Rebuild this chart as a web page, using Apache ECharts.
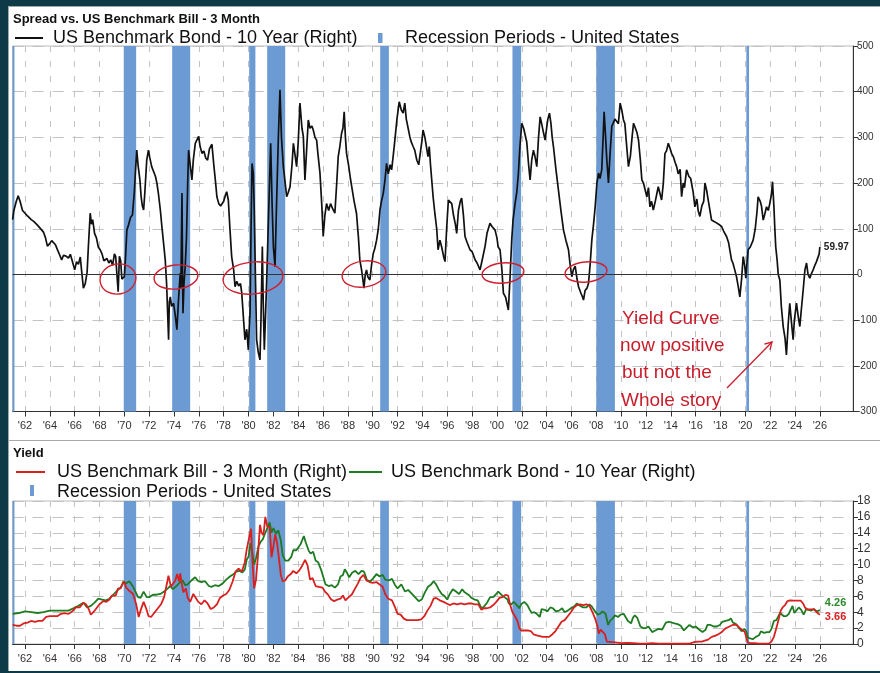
<!DOCTYPE html>
<html><head><meta charset="utf-8">
<script src="https://cdn.jsdelivr.net/npm/echarts@6/dist/echarts.min.js"></script>
<style>
html,body{margin:0;padding:0;background:#0e3a47;width:880px;height:673px;overflow:hidden;}
#panel{position:absolute;left:8px;top:6px;width:872px;height:665px;background:#fff;border-left:1px solid #9aa;border-top:1px solid #9aa;box-sizing:border-box;}
#sep{position:absolute;left:8px;top:440px;width:872px;height:1px;background:#aaa;}
#chart{position:absolute;left:0;top:0;width:880px;height:673px;}
</style>
</head><body>
<div id="panel"></div><div id="sep"></div>
<div id="chart"></div>
<script>
// ---------- data ----------
const yearTicks = [1962,1964,1966,1968,1970,1972,1974,1976,1978,1980,1982,1984,1986,1988,1990,1992,1994,1996,1998,2000,2002,2004,2006,2008,2010,2012,2014,2016,2018,2020,2022,2024,2026];
const recessions = [[1961.0,1961.15],[1969.95,1970.95],[1973.85,1975.3],[1980.05,1980.55],[1981.5,1982.95],[1990.6,1991.3],[2001.25,2001.95],[2008.0,2009.5],[2020.08,2020.3]];
// spread 10Y - 3M, basis points [year, bp]
const spread = [[1961.0,120],[1961.1,140],[1961.3,160],[1961.45,172],[1961.6,160],[1961.8,140],[1962.0,134],[1962.2,128],[1962.35,132],[1962.5,120],[1962.7,116],[1962.85,120],[1963.0,108],[1963.15,112],[1963.35,97],[1963.5,92],[1963.65,80],[1963.8,62],[1964.0,68],[1964.15,74],[1964.3,72],[1964.45,65],[1964.6,55],[1964.8,42],[1964.95,32],[1965.1,42],[1965.3,40],[1965.5,36],[1965.65,44],[1965.8,30],[1966.0,10],[1966.15,28],[1966.3,22],[1966.45,38],[1966.55,10],[1966.7,-30],[1966.85,-20],[1967.0,5],[1967.1,60],[1967.25,134],[1967.35,110],[1967.45,120],[1967.6,90],[1967.75,80],[1967.9,60],[1968.05,54],[1968.2,45],[1968.35,30],[1968.45,28],[1968.6,35],[1968.75,25],[1968.9,32],[1969.05,20],[1969.2,45],[1969.3,39],[1969.4,0],[1969.5,-38],[1969.6,40],[1969.7,30],[1969.8,-10],[1969.9,-12],[1970.0,-5],[1970.1,40],[1970.2,97],[1970.35,110],[1970.5,125],[1970.65,130],[1970.8,180],[1970.9,230],[1971.0,272],[1971.1,240],[1971.25,207],[1971.35,170],[1971.45,150],[1971.55,141],[1971.65,180],[1971.8,250],[1971.94,272],[1972.05,255],[1972.2,236],[1972.35,240],[1972.5,215],[1972.62,200],[1972.75,175],[1972.9,140],[1973.02,105],[1973.15,70],[1973.29,32],[1973.4,-20],[1973.56,-143],[1973.62,-60],[1973.7,-49],[1973.8,-70],[1973.96,-63],[1974.1,-90],[1974.23,-121],[1974.35,-60],[1974.5,3],[1974.55,-30],[1974.64,178],[1974.68,20],[1974.72,-85],[1974.8,-20],[1974.9,18],[1975.0,80],[1975.1,200],[1975.17,272],[1975.3,240],[1975.44,207],[1975.55,250],[1975.71,287],[1975.85,290],[1975.98,302],[1976.1,280],[1976.25,265],[1976.4,270],[1976.55,255],[1976.7,250],[1976.85,275],[1977.05,285],[1977.2,240],[1977.35,200],[1977.45,170],[1977.6,155],[1977.75,150],[1977.86,148],[1978.0,160],[1978.15,175],[1978.24,181],[1978.37,163],[1978.5,100],[1978.64,39],[1978.8,10],[1978.91,-27],[1979.05,-15],[1979.2,-25],[1979.35,-20],[1979.45,-40],[1979.6,-100],[1979.71,-143],[1979.85,-120],[1979.98,-165],[1980.05,-120],[1980.12,-85],[1980.2,100],[1980.28,243],[1980.38,222],[1980.45,150],[1980.55,0],[1980.65,-143],[1980.78,-170],[1980.92,-187],[1981.0,-100],[1981.11,61],[1981.18,-60],[1981.27,-165],[1981.38,-80],[1981.46,-12],[1981.6,120],[1981.78,287],[1981.9,150],[1982.0,60],[1982.13,17],[1982.25,150],[1982.4,300],[1982.53,404],[1982.65,300],[1982.8,236],[1982.95,200],[1983.07,170],[1983.2,180],[1983.34,192],[1983.5,240],[1983.61,287],[1983.75,260],[1983.87,236],[1984.0,290],[1984.14,375],[1984.3,320],[1984.41,302],[1984.54,207],[1984.65,260],[1984.81,338],[1984.95,320],[1985.1,325],[1985.21,316],[1985.35,300],[1985.48,294],[1985.6,260],[1985.75,222],[1985.9,150],[1986.01,83],[1986.15,130],[1986.28,155],[1986.45,140],[1986.6,155],[1986.75,145],[1986.95,134],[1987.1,200],[1987.22,258],[1987.35,280],[1987.49,309],[1987.6,320],[1987.7,356],[1987.8,300],[1987.89,265],[1988.05,240],[1988.2,210],[1988.35,185],[1988.5,160],[1988.69,134],[1988.85,80],[1988.96,32],[1989.1,10],[1989.2,-10],[1989.29,-30],[1989.4,0],[1989.5,10],[1989.6,-5],[1989.77,-12],[1989.9,20],[1990.04,46],[1990.15,55],[1990.31,75],[1990.45,100],[1990.58,141],[1990.7,160],[1990.85,178],[1991.0,210],[1991.11,243],[1991.25,220],[1991.4,240],[1991.52,229],[1991.65,260],[1991.78,294],[1991.95,340],[1992.13,378],[1992.3,360],[1992.45,353],[1992.58,375],[1992.7,340],[1992.85,320],[1992.98,302],[1993.1,290],[1993.25,280],[1993.38,272],[1993.55,250],[1993.7,240],[1993.79,236],[1993.95,290],[1994.05,316],[1994.2,300],[1994.35,275],[1994.45,258],[1994.55,280],[1994.65,240],[1994.86,170],[1995.0,134],[1995.15,100],[1995.26,54],[1995.41,75],[1995.55,60],[1995.7,40],[1995.82,28],[1995.95,100],[1996.09,163],[1996.2,160],[1996.36,155],[1996.5,130],[1996.65,110],[1996.76,90],[1996.9,140],[1997.05,160],[1997.16,167],[1997.3,130],[1997.43,83],[1997.6,70],[1997.83,54],[1998.0,50],[1998.24,32],[1998.4,25],[1998.64,10],[1998.8,30],[1999.04,61],[1999.2,90],[1999.44,112],[1999.6,105],[1999.85,97],[2000.0,80],[2000.1,60],[2000.25,54],[2000.4,10],[2000.52,-41],[2000.7,-50],[2000.92,-78],[2001.05,-10],[2001.19,75],[2001.3,120],[2001.46,155],[2001.6,180],[2001.73,222],[2001.85,280],[2002.0,331],[2002.15,320],[2002.27,324],[2002.4,290],[2002.55,240],[2002.67,207],[2002.8,250],[2002.94,272],[2003.05,260],[2003.21,236],[2003.35,300],[2003.48,345],[2003.6,330],[2003.75,310],[2003.88,294],[2004.0,320],[2004.1,340],[2004.23,353],[2004.35,330],[2004.45,300],[2004.55,280],[2004.75,230],[2004.95,185],[2005.15,140],[2005.36,97],[2005.55,75],[2005.76,54],[2005.9,20],[2006.03,-5],[2006.15,10],[2006.3,18],[2006.45,-10],[2006.57,-27],[2006.75,-40],[2006.9,-50],[2006.97,-56],[2007.1,-35],[2007.25,-30],[2007.37,-20],[2007.5,20],[2007.64,75],[2007.78,110],[2007.91,148],[2008.05,200],[2008.18,222],[2008.3,210],[2008.44,229],[2008.55,300],[2008.63,356],[2008.75,300],[2008.85,250],[2008.98,200],[2009.1,260],[2009.25,324],[2009.4,320],[2009.5,340],[2009.65,338],[2009.78,330],[2009.92,375],[2010.05,360],[2010.19,338],[2010.3,330],[2010.45,280],[2010.59,236],[2010.75,260],[2010.88,300],[2011.0,331],[2011.15,320],[2011.28,310],[2011.4,294],[2011.55,250],[2011.67,207],[2011.8,200],[2011.92,200],[2012.07,170],[2012.2,190],[2012.32,148],[2012.45,160],[2012.59,141],[2012.75,160],[2012.99,192],[2013.1,180],[2013.26,163],[2013.4,200],[2013.53,265],[2013.65,270],[2013.8,287],[2013.95,275],[2014.06,265],[2014.2,258],[2014.35,245],[2014.47,236],[2014.6,220],[2014.75,230],[2014.87,170],[2015.0,200],[2015.1,190],[2015.27,229],[2015.45,215],[2015.6,210],[2015.67,207],[2015.8,180],[2015.94,148],[2016.1,165],[2016.2,140],[2016.34,127],[2016.5,150],[2016.65,160],[2016.75,200],[2016.88,185],[2017.01,163],[2017.15,140],[2017.28,119],[2017.4,122],[2017.55,115],[2017.68,116],[2017.85,110],[2018.09,105],[2018.25,95],[2018.49,83],[2018.65,70],[2018.89,32],[2019.0,25],[2019.15,10],[2019.29,-5],[2019.45,-30],[2019.56,-49],[2019.7,-10],[2019.83,39],[2019.95,20],[2020.04,-8],[2020.12,20],[2020.23,54],[2020.4,60],[2020.63,75],[2020.8,100],[2020.95,140],[2021.03,170],[2021.2,160],[2021.3,150],[2021.44,119],[2021.55,130],[2021.71,148],[2021.85,140],[2021.97,155],[2022.1,175],[2022.19,203],[2022.3,150],[2022.37,105],[2022.45,60],[2022.56,32],[2022.65,0],[2022.78,-12],[2022.9,-70],[2023.05,-114],[2023.2,-140],[2023.31,-176],[2023.45,-110],[2023.58,-63],[2023.7,-100],[2023.85,-143],[2023.95,-100],[2024.12,-63],[2024.25,-90],[2024.39,-114],[2024.5,-80],[2024.66,-34],[2024.8,10],[2024.93,25],[2025.05,0],[2025.19,-8],[2025.3,0],[2025.46,10],[2025.6,20],[2025.73,28],[2025.85,30],[2025.95,45],[2026.0,59.97]];
// US 3-month bill yield, % [year, %]
const bill3m = [[1961.0,2.4],[1961.3,2.3],[1961.6,2.3],[1961.9,2.6],[1962.2,2.7],[1962.5,2.9],[1962.8,2.8],[1963.1,2.9],[1963.4,2.9],[1963.7,3.4],[1964.0,3.5],[1964.3,3.5],[1964.6,3.5],[1964.9,3.8],[1965.2,3.9],[1965.5,3.8],[1965.8,4.1],[1966.1,4.6],[1966.4,4.6],[1966.7,5.2],[1966.9,5.0],[1967.1,4.5],[1967.3,3.7],[1967.5,4.0],[1967.8,4.6],[1968.0,5.0],[1968.3,5.4],[1968.55,5.3],[1968.8,5.6],[1969.0,6.1],[1969.3,6.1],[1969.5,7.0],[1969.7,7.0],[1969.95,7.9],[1970.15,7.1],[1970.4,6.7],[1970.7,6.3],[1970.95,5.0],[1971.15,3.4],[1971.3,4.2],[1971.55,5.3],[1971.75,4.5],[1971.95,3.5],[1972.15,3.4],[1972.4,3.9],[1972.7,4.5],[1972.95,5.0],[1973.2,5.9],[1973.45,7.8],[1973.55,8.6],[1973.75,7.2],[1973.9,7.4],[1974.1,8.0],[1974.25,8.8],[1974.4,7.9],[1974.5,8.9],[1974.6,7.8],[1974.75,6.5],[1974.95,7.0],[1975.1,5.8],[1975.3,5.3],[1975.55,6.3],[1975.75,5.8],[1975.95,5.3],[1976.2,5.0],[1976.45,5.5],[1976.7,5.1],[1976.95,4.4],[1977.2,4.6],[1977.45,5.0],[1977.7,5.8],[1977.95,6.1],[1978.2,6.3],[1978.45,6.8],[1978.7,7.8],[1978.95,9.1],[1979.2,9.5],[1979.45,9.1],[1979.7,10.3],[1979.85,11.9],[1980.0,12.0],[1980.2,14.5],[1980.3,10.8],[1980.45,7.0],[1980.6,8.1],[1980.75,11.0],[1980.92,15.0],[1981.05,14.0],[1981.2,13.7],[1981.35,16.0],[1981.5,14.8],[1981.7,14.7],[1981.85,10.9],[1982.0,12.3],[1982.15,13.8],[1982.3,12.7],[1982.45,12.9],[1982.6,8.7],[1982.75,7.9],[1982.95,8.0],[1983.15,8.5],[1983.4,8.8],[1983.6,9.2],[1983.85,8.9],[1984.05,9.2],[1984.3,9.8],[1984.55,10.6],[1984.75,9.9],[1984.95,8.1],[1985.15,8.3],[1985.4,7.3],[1985.65,7.2],[1985.95,7.1],[1986.15,6.6],[1986.4,6.2],[1986.65,5.6],[1986.9,5.4],[1987.15,5.6],[1987.4,5.7],[1987.6,6.1],[1987.8,5.5],[1988.0,5.8],[1988.3,6.2],[1988.55,6.9],[1988.8,7.6],[1989.0,8.3],[1989.25,8.7],[1989.5,8.0],[1989.75,7.8],[1990.0,7.7],[1990.3,7.8],[1990.55,7.5],[1990.8,7.2],[1991.0,6.3],[1991.25,5.7],[1991.55,5.5],[1991.8,4.6],[1992.0,3.8],[1992.25,3.7],[1992.5,3.2],[1992.75,3.0],[1993.0,3.0],[1993.3,3.0],[1993.6,3.0],[1993.9,3.1],[1994.15,3.5],[1994.4,4.2],[1994.65,4.8],[1994.9,5.7],[1995.1,5.8],[1995.4,5.5],[1995.7,5.3],[1995.95,5.1],[1996.2,4.9],[1996.5,5.1],[1996.8,5.0],[1997.1,5.1],[1997.4,5.0],[1997.7,5.1],[1997.95,5.1],[1998.2,5.0],[1998.5,5.0],[1998.75,4.3],[1998.95,4.5],[1999.2,4.5],[1999.45,4.6],[1999.7,4.9],[1999.95,5.3],[2000.2,5.8],[2000.45,5.9],[2000.7,6.2],[2000.9,6.1],[2001.05,5.0],[2001.25,4.0],[2001.45,3.5],[2001.65,2.9],[2001.8,2.0],[2001.95,1.7],[2002.2,1.7],[2002.5,1.7],[2002.75,1.6],[2002.95,1.2],[2003.2,1.1],[2003.45,1.0],[2003.7,0.9],[2003.95,0.9],[2004.2,0.9],[2004.45,1.2],[2004.7,1.6],[2004.95,2.2],[2005.2,2.8],[2005.45,3.0],[2005.7,3.5],[2005.95,4.0],[2006.2,4.6],[2006.45,4.9],[2006.7,5.0],[2006.95,4.9],[2007.2,5.0],[2007.45,4.8],[2007.6,4.6],[2007.75,3.8],[2007.95,3.0],[2008.1,2.2],[2008.2,1.3],[2008.35,1.8],[2008.5,1.7],[2008.7,1.2],[2008.85,0.3],[2009.0,0.1],[2009.5,0.2],[2010.0,0.1],[2010.5,0.15],[2011.0,0.1],[2011.5,0.05],[2012.0,0.05],[2012.5,0.1],[2013.0,0.05],[2013.5,0.05],[2014.0,0.05],[2014.5,0.05],[2015.0,0.03],[2015.5,0.05],[2015.9,0.25],[2016.2,0.3],[2016.5,0.3],[2016.8,0.45],[2017.0,0.55],[2017.3,0.9],[2017.6,1.05],[2017.9,1.3],[2018.1,1.5],[2018.35,1.9],[2018.6,2.1],[2018.85,2.3],[2019.05,2.45],[2019.3,2.4],[2019.5,2.1],[2019.75,1.75],[2019.95,1.55],[2020.1,1.5],[2020.2,0.2],[2020.4,0.1],[2020.7,0.1],[2021.0,0.08],[2021.5,0.05],[2021.9,0.05],[2022.1,0.3],[2022.3,0.9],[2022.5,2.0],[2022.7,3.2],[2022.85,4.2],[2023.0,4.6],[2023.2,4.9],[2023.4,5.4],[2023.6,5.5],[2023.9,5.45],[2024.2,5.45],[2024.45,5.45],[2024.65,5.1],[2024.8,4.6],[2025.0,4.35],[2025.3,4.35],[2025.55,4.35],[2025.75,4.0],[2026.0,3.66]];
// US 10-year bond yield, % [year, %]
const bond10y = [[1961.0,3.8],[1961.5,3.9],[1962.0,4.1],[1962.5,4.0],[1963.0,3.9],[1963.5,4.0],[1964.0,4.2],[1964.5,4.2],[1965.0,4.2],[1965.5,4.2],[1965.9,4.5],[1966.3,4.8],[1966.7,5.2],[1967.0,4.6],[1967.3,4.8],[1967.6,5.2],[1967.9,5.7],[1968.2,5.6],[1968.5,5.5],[1968.8,5.7],[1969.1,6.2],[1969.4,6.7],[1969.7,7.1],[1969.95,7.9],[1970.1,7.6],[1970.4,7.9],[1970.7,7.2],[1970.95,6.4],[1971.1,5.9],[1971.3,5.8],[1971.55,6.6],[1971.8,5.9],[1972.0,5.9],[1972.3,6.2],[1972.6,6.2],[1972.9,6.3],[1973.2,6.6],[1973.5,7.0],[1973.7,7.3],[1973.9,6.9],[1974.2,7.3],[1974.5,7.8],[1974.7,8.0],[1974.9,7.4],[1975.1,7.5],[1975.4,8.0],[1975.7,8.4],[1975.95,7.9],[1976.2,7.8],[1976.5,7.9],[1976.8,7.3],[1977.0,7.2],[1977.3,7.4],[1977.6,7.3],[1977.9,7.6],[1978.2,8.1],[1978.5,8.5],[1978.8,8.8],[1979.0,9.1],[1979.3,9.2],[1979.5,9.0],[1979.7,9.4],[1979.85,10.6],[1980.0,11.0],[1980.15,12.7],[1980.3,11.5],[1980.45,10.0],[1980.6,10.8],[1980.8,12.3],[1980.95,12.8],[1981.15,13.2],[1981.35,14.0],[1981.5,13.8],[1981.7,15.3],[1981.85,14.0],[1982.0,14.6],[1982.2,13.9],[1982.4,14.3],[1982.6,13.0],[1982.75,11.2],[1982.95,10.5],[1983.2,10.5],[1983.45,11.0],[1983.6,11.8],[1983.85,11.8],[1984.0,11.7],[1984.2,12.6],[1984.45,13.6],[1984.6,12.8],[1984.85,11.7],[1985.0,11.4],[1985.2,11.6],[1985.4,10.5],[1985.6,10.3],[1985.85,9.3],[1986.0,9.2],[1986.2,7.5],[1986.45,7.3],[1986.7,7.4],[1986.95,7.1],[1987.2,7.5],[1987.4,8.5],[1987.6,8.7],[1987.75,9.4],[1987.95,8.9],[1988.1,8.4],[1988.35,9.0],[1988.6,9.2],[1988.85,8.8],[1989.1,9.2],[1989.3,9.1],[1989.55,8.0],[1989.8,7.9],[1990.0,8.2],[1990.3,8.8],[1990.55,8.5],[1990.8,8.7],[1991.0,8.1],[1991.3,8.0],[1991.55,8.2],[1991.8,7.4],[1992.0,7.0],[1992.3,7.5],[1992.6,6.6],[1992.85,6.8],[1993.1,6.4],[1993.4,5.9],[1993.7,5.4],[1993.95,5.6],[1994.2,6.5],[1994.45,7.2],[1994.7,7.5],[1994.9,7.9],[1995.1,7.5],[1995.3,6.9],[1995.55,6.3],[1995.8,6.0],[1996.0,5.6],[1996.2,6.3],[1996.45,6.9],[1996.7,6.6],[1996.95,6.3],[1997.2,6.9],[1997.4,6.5],[1997.7,6.2],[1997.95,5.8],[1998.2,5.6],[1998.45,5.5],[1998.75,4.5],[1998.95,4.7],[1999.2,5.2],[1999.45,5.9],[1999.7,5.9],[1999.95,6.3],[2000.1,6.6],[2000.35,6.2],[2000.6,5.9],[2000.85,5.6],[2000.95,5.1],[2001.15,5.0],[2001.35,5.3],[2001.6,4.9],[2001.8,4.5],[2001.95,5.0],[2002.2,5.3],[2002.45,4.9],[2002.65,4.3],[2002.8,3.9],[2003.0,4.0],[2003.2,3.8],[2003.45,3.4],[2003.6,4.4],[2003.85,4.3],[2004.05,4.1],[2004.3,4.6],[2004.5,4.5],[2004.75,4.1],[2005.0,4.2],[2005.25,4.5],[2005.45,4.0],[2005.7,4.2],[2005.95,4.5],[2006.2,4.7],[2006.45,5.1],[2006.7,4.8],[2006.95,4.6],[2007.2,4.6],[2007.45,5.0],[2007.65,4.7],[2007.9,4.1],[2008.1,3.7],[2008.3,3.8],[2008.5,4.1],[2008.75,3.8],[2008.95,2.4],[2009.1,2.9],[2009.3,3.2],[2009.5,3.6],[2009.75,3.4],[2009.95,3.7],[2010.2,3.8],[2010.35,3.6],[2010.55,2.9],[2010.8,2.6],[2010.95,3.3],[2011.1,3.6],[2011.3,3.3],[2011.55,2.2],[2011.75,2.0],[2012.0,2.0],[2012.2,2.2],[2012.5,1.5],[2012.75,1.7],[2013.0,1.9],[2013.3,1.8],[2013.6,2.7],[2013.85,2.8],[2014.0,3.0],[2014.3,2.6],[2014.55,2.5],[2014.8,2.3],[2015.05,1.7],[2015.3,2.1],[2015.5,2.4],[2015.75,2.1],[2016.0,2.2],[2016.3,1.8],[2016.55,1.5],[2016.8,1.8],[2016.95,2.4],[2017.2,2.4],[2017.45,2.2],[2017.7,2.2],[2017.95,2.4],[2018.15,2.8],[2018.4,2.9],[2018.65,3.0],[2018.85,3.2],[2019.0,2.7],[2019.25,2.5],[2019.5,2.0],[2019.7,1.6],[2019.95,1.9],[2020.1,1.5],[2020.2,0.8],[2020.35,0.7],[2020.6,0.6],[2020.85,0.9],[2021.1,1.1],[2021.25,1.6],[2021.5,1.4],[2021.75,1.5],[2021.95,1.5],[2022.1,1.9],[2022.3,2.9],[2022.5,3.0],[2022.65,2.8],[2022.8,3.9],[2022.95,3.8],[2023.1,3.5],[2023.3,3.5],[2023.5,3.8],[2023.8,4.8],[2023.95,3.9],[2024.1,4.1],[2024.3,4.6],[2024.5,4.3],[2024.7,3.7],[2024.9,4.4],[2025.05,4.6],[2025.3,4.2],[2025.5,4.4],[2025.75,4.1],[2026.0,4.26]];

// ---------- chart ----------
const FONT = 'Liberation Sans, Arial, sans-serif';
const REC_COLOR = '#6b9bd2';
const GRID_COLOR = '#c2c2c2';
const chart = echarts.init(document.getElementById('chart'), null, {renderer: 'canvas'});

function xAxisCfg(gi) {
  return {
    type: 'value', gridIndex: gi, min: 1961, max: 2028.67,
    axisLine: {show: true, onZero: false, lineStyle: {color: '#333', width: 1}},
    axisTick: {show: true, customValues: yearTicks, length: 5, lineStyle: {color: '#333'}},
    axisLabel: {customValues: yearTicks, formatter: v => "'" + String(Math.round(v)).slice(2),
      fontSize: 11, color: '#333', margin: 9, fontFamily: FONT},
    splitLine: {show: true, lineStyle: {color: GRID_COLOR, type: [6, 9], width: 1}}
  };
}
function recSeries(gi) {
  return {
    type: 'line', xAxisIndex: gi, yAxisIndex: gi, data: [], silent: true, z: 1,
    markArea: {silent: true, itemStyle: {color: REC_COLOR, opacity: 1},
      data: recessions.map(r => [{xAxis: r[0]}, {xAxis: r[1]}])}
  };
}

const option = {
  backgroundColor: 'transparent',
  animation: false,
  grid: [
    {left: 12.6, top: 46, width: 840.4, height: 365.5, show: true, borderColor: '#bbb', borderWidth: 1, backgroundColor: 'transparent'},
    {left: 12.6, top: 501, width: 840.4, height: 143, show: true, borderColor: '#bbb', borderWidth: 1, backgroundColor: 'transparent'}
  ],
  xAxis: [xAxisCfg(0), xAxisCfg(1)],
  yAxis: [
    {type: 'value', gridIndex: 0, position: 'right', min: -300, max: 500, interval: 100,
      axisLine: {show: true, lineStyle: {color: '#333'}},
      axisTick: {show: true, length: 5, lineStyle: {color: '#333'}},
      axisLabel: {fontSize: 10, color: '#333', margin: 4, fontFamily: FONT},
      splitLine: {show: true, lineStyle: {color: GRID_COLOR, type: [11, 9]}}},
    {type: 'value', gridIndex: 1, position: 'right', min: 0, max: 18, interval: 2,
      axisLine: {show: true, lineStyle: {color: '#333'}},
      axisTick: {show: true, length: 5, lineStyle: {color: '#333'}},
      axisLabel: {fontSize: 12, color: '#333', margin: 4, fontFamily: FONT},
      splitLine: {show: true, lineStyle: {color: GRID_COLOR, type: [11, 9]}}}
  ],
  series: [
    recSeries(0),
    recSeries(1),
    {
      name: 'US Benchmark Bond - 10 Year (Right)', type: 'line', xAxisIndex: 0, yAxisIndex: 0,
      data: spread, showSymbol: false, z: 3,
      lineStyle: {color: '#111', width: 1.7}, itemStyle: {color: '#111'},
      endLabel: {show: true, formatter: p => p.value[1].toFixed(2), fontSize: 10, fontWeight: 'bold',
        color: '#222', fontFamily: FONT, distance: 4},
      markLine: {silent: true, symbol: 'none', label: {show: false},
        lineStyle: {color: '#333', width: 1, type: 'solid'}, data: [{yAxis: 0}]}
    },
    {
      name: 'US Benchmark Bond - 10 Year (Right)', type: 'line', xAxisIndex: 1, yAxisIndex: 1,
      data: bond10y, showSymbol: false, z: 3,
      lineStyle: {color: '#1e7b22', width: 1.8}, itemStyle: {color: '#1e7b22'},
      endLabel: {show: true, formatter: p => p.value[1].toFixed(2), fontSize: 11, fontWeight: 'bold',
        color: '#2a8a2a', fontFamily: FONT, distance: 5, offset: [0, -7]}
    },
    {
      name: 'US Benchmark Bill - 3 Month (Right)', type: 'line', xAxisIndex: 1, yAxisIndex: 1,
      data: bill3m, showSymbol: false, z: 4,
      lineStyle: {color: '#d8201f', width: 1.8}, itemStyle: {color: '#d8201f'},
      endLabel: {show: true, formatter: p => p.value[1].toFixed(2), fontSize: 11, fontWeight: 'bold',
        color: '#d8201f', fontFamily: FONT, distance: 5, offset: [0, 2]}
    }
  ],
  graphic: {elements: []}
};

const T = (text, x, y, font, fill) => ({type: 'text', z: 100, silent: true,
  style: {text, x, y, font, fill, align: 'left', verticalAlign: 'middle'}});
const L = (x1, y1, x2, y2, stroke, w) => ({type: 'line', z: 100, silent: true,
  shape: {x1, y1, x2, y2}, style: {stroke, lineWidth: w}});
const R = (x, y, width, height, fill) => ({type: 'rect', z: 100, silent: true,
  shape: {x, y, width, height}, style: {fill}});
const E = (cx, cy, rx, ry, rot) => ({type: 'ellipse', z: 101, silent: true, rotation: rot || 0,
  x: cx, y: cy, shape: {cx: 0, cy: 0, rx, ry}, style: {stroke: '#cf2030', fill: null, lineWidth: 1.4}});

const ANN = '#c81e2c';
const HAND = '19px "Liberation Sans Narrow", "Liberation Sans", sans-serif';
option.graphic.elements = [
  T('Spread vs. US Benchmark Bill - 3 Month', 13, 19, 'bold 13px ' + FONT, '#111'),
  L(15, 38, 43, 38, '#111', 2),
  T('US Benchmark Bond - 10 Year (Right)', 53, 38, '18px ' + FONT, '#111'),
  R(378, 33, 4.5, 10, REC_COLOR),
  T('Recession Periods - United States', 405, 38, '18px ' + FONT, '#111'),

  T('Yield', 13, 453, 'bold 13px ' + FONT, '#111'),
  L(16, 472, 45, 472, '#d8201f', 2),
  T('US Benchmark Bill - 3 Month (Right)', 57, 472, '18px ' + FONT, '#111'),
  L(349, 472, 382, 472, '#1e7b22', 2),
  T('US Benchmark Bond - 10 Year (Right)', 391, 472, '18px ' + FONT, '#111'),
  R(30, 485, 4, 11, REC_COLOR),
  T('Recession Periods - United States', 57, 492, '18px ' + FONT, '#111'),

  // hand-drawn annotations
  E(118, 279, 18, 15, 0.2), E(176, 277, 22, 12, 0.1), E(253, 278, 30, 16, 0.1),
  E(364, 274, 22, 13, 0.15), E(503, 273, 21, 10, 0.1), E(586, 272, 21, 10, 0.1),
  T('Yield Curve', 622, 319, HAND, ANN),
  T('now positive', 620, 346, HAND, ANN),
  T('but not the', 622, 373, HAND, ANN),
  T('Whole story', 621, 401, HAND, ANN),
  L(727, 388, 772, 342, ANN, 1.3),
  {type: 'polyline', z: 101, silent: true, shape: {points: [[764.3, 344.2], [772, 342], [770, 349.8]]},
    style: {stroke: ANN, lineWidth: 1.3, fill: null}}
];

chart.setOption(option);
</script>
</body></html>
